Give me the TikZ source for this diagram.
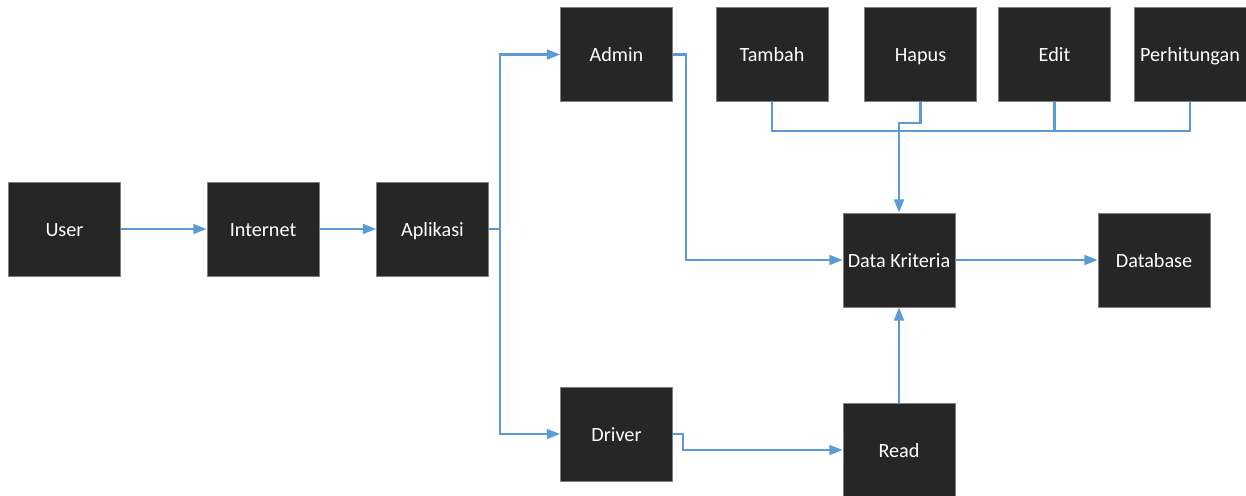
\documentclass[tikz,border=0pt]{standalone}
\usepackage{fontspec}
\setmainfont{Carlito}
\usetikzlibrary{arrows.meta}
\definecolor{boxfill}{HTML}{262626}
\definecolor{boxedge}{HTML}{7F7F7F}
\definecolor{flow}{HTML}{5B9BD5}
\tikzset{
  blockbox/.style={draw=boxedge, line width=0.5pt, fill=boxfill, text=white,
    minimum width=2.24cm, minimum height=1.88cm, inner sep=0pt,
    text height=1.9ex, text depth=0.2ex,
    font=\fontsize{11.5}{13.5}\selectfont},
  flowline/.style={draw=flow, line width=1.2pt},
  flowarrow/.style={flowline, -{Triangle[length=7.5pt,width=5.6pt]}}
}
\begin{document}
\begin{tikzpicture}[x=0.02cm,y=-0.02cm]
\useasboundingbox (0,0) rectangle (1246,496);
% main chain
\node[blockbox] (user) at (64.5,229) {User};
\node[blockbox] (inet) at (263,229) {Internet};
\node[blockbox] (apl)  at (432.5,229) {Aplikasi};
% roles
\node[blockbox] (admin)  at (616.5,54.5) {Admin};
\node[blockbox] (driver) at (616.5,434) {Driver};
% admin operations
\node[blockbox] (tambah) at (772,54.5) {Tambah};
\node[blockbox] (hapus)  at (920.5,54.5) {Hapus};
\node[blockbox] (edit)   at (1054.5,54.5) {Edit};
\node[blockbox] (hitung) at (1190,54.5) {Perhitungan};
% data
\node[blockbox] (dk)   at (899,260) {Data Kriteria};
\node[blockbox] (db)   at (1154,260) {Database};
\node[blockbox] (read) at (899,450) {Read};

% connectors
\draw[flowarrow] (user) -- (inet);
\draw[flowarrow] (inet) -- (apl);
\draw[flowarrow] (apl.east) -- ++(11,0) |- (admin.west);
\draw[flowarrow] (apl.east) -- ++(11,0) |- (driver.west);
\draw[flowarrow] (admin.east) -- ++(13,0) |- (dk.west);
\draw[flowarrow] (driver.east) -- ++(10,0) |- (read.west);
\draw[flowarrow] (read.north) -- (dk.south);
\draw[flowarrow] (dk.east) -- (db.west);
% bus from the operations
\coordinate (bus) at (772,131);
\draw[flowline] (tambah.south) -- (bus) -| (hitung.south);
\draw[flowline] (edit.south) -- (edit.south |- bus);
\draw[flowarrow] (hapus.south) -- ++(0,21) -| (dk.north);
\end{tikzpicture}
\end{document}
